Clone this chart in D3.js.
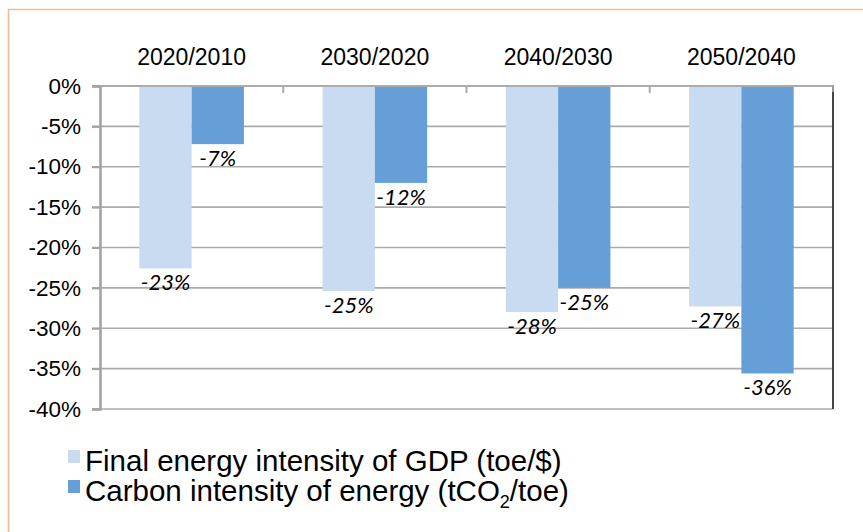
<!DOCTYPE html>
<html>
<head>
<meta charset="utf-8">
<script src="https://cdn.jsdelivr.net/npm/d3@7"></script>
<style>
  html, body { margin: 0; padding: 0; background: #fff; }
  svg { display: block; }
</style>
</head>
<body>
<svg id="chart" width="863" height="532"></svg>
<script>
// Decade-on-decade change in energy and carbon intensity (%)
const periods = ["2020/2010", "2030/2020", "2040/2030", "2050/2040"];
const seriesNames = ["Final energy intensity of GDP (toe/$)", "Carbon intensity of energy (tCO2/toe)"];
const energyIntensity = [-22.6, -25.4, -28.0, -27.3];
const carbonIntensity = [-7.2, -12.0, -25.0, -35.6];
const yTicks = [0, -5, -10, -15, -20, -25, -30, -35, -40];

const colors = ["#c9dbf0", "#669fd7"];
const svg = d3.select("#chart");
const W = 863, H = 532;

// frame around the figure
svg.append("path")
  .attr("d", `M8.5,${H + 2} V9.5 H${W + 2}`)
  .attr("fill", "none")
  .attr("stroke", "#f7b894")
  .attr("stroke-width", 1.6);

const plot = { left: 100, right: 833, top: 86, bottom: 409 };

const y = d3.scaleLinear().domain([-40, 0]).range([plot.bottom, plot.top]);
const x0 = d3.scaleBand().domain(periods).range([plot.left, plot.right]).padding(0);
const x1 = d3.scaleBand().domain([0, 1]).range([0, x0.bandwidth()])
  .paddingInner(0).paddingOuter(0.752);

const gridColor = "#ababab";

// horizontal gridlines
svg.append("g")
  .selectAll("line")
  .data(yTicks.filter(t => t !== 0))
  .join("line")
  .attr("x1", plot.left - 8)
  .attr("x2", plot.right)
  .attr("y1", d => y(d))
  .attr("y2", d => y(d))
  .attr("stroke", gridColor)
  .attr("stroke-width", 1.6);

// bars
const rows = periods.map((p, i) => ({ period: p, values: [energyIntensity[i], carbonIntensity[i]] }));

const groups = svg.append("g")
  .selectAll("g")
  .data(rows)
  .join("g")
  .attr("transform", d => `translate(${x0(d.period)},0)`);

groups.selectAll("rect")
  .data(d => d.values.map((v, k) => ({ v, k })))
  .join("rect")
  .attr("x", d => x1(d.k))
  .attr("width", x1.bandwidth())
  .attr("y", y(0))
  .attr("height", d => y(d.v) - y(0))
  .attr("fill", d => colors[d.k]);

// value labels under each bar
groups.selectAll("text")
  .data(d => d.values.map((v, k) => ({ v, k })))
  .join("text")
  .attr("x", d => x1(d.k) + x1.bandwidth() / 2)
  .attr("y", d => y(d.v) + 22)
  .attr("text-anchor", "middle")
  .attr("font-family", "Lato, 'Open Sans', sans-serif")
  .attr("font-style", "italic")
  .attr("font-size", 22)
  .attr("fill", "#000")
  .text(d => `${Math.round(d.v)}%`);

// top axis line (0%) with category separators
svg.append("line")
  .attr("x1", plot.left - 8).attr("x2", plot.right)
  .attr("y1", y(0)).attr("y2", y(0))
  .attr("stroke", gridColor).attr("stroke-width", 2);

svg.append("g")
  .selectAll("line")
  .data(periods.slice(1))
  .join("line")
  .attr("x1", d => x0(d)).attr("x2", d => x0(d))
  .attr("y1", y(0)).attr("y2", y(0) + 7)
  .attr("stroke", gridColor).attr("stroke-width", 2);

// left value axis
const yAxis = d3.axisLeft(y)
  .tickValues(yTicks)
  .tickSize(8)
  .tickPadding(11)
  .tickFormat(d => `${d}%`);

const ya = svg.append("g")
  .attr("transform", `translate(${plot.left},0)`)
  .call(yAxis);
ya.select(".domain").attr("stroke", "#a3a3a3").attr("stroke-width", 2.6);
ya.selectAll(".tick line").attr("stroke", "#a3a3a3").attr("stroke-width", 2);
ya.selectAll(".tick text")
  .attr("font-family", "'Liberation Sans', Arial, sans-serif")
  .attr("font-size", 22.5)
  .attr("fill", "#000");

// right border of the plot area
svg.append("line")
  .attr("x1", plot.right).attr("x2", plot.right)
  .attr("y1", plot.top + 6).attr("y2", plot.bottom)
  .attr("stroke", "#444").attr("stroke-width", 2);
svg.append("line")
  .attr("x1", plot.right).attr("x2", plot.right)
  .attr("y1", plot.top - 1).attr("y2", plot.top + 6)
  .attr("stroke", "#9a9a9a").attr("stroke-width", 2);

// category labels above the plot
svg.append("g")
  .selectAll("text")
  .data(periods)
  .join("text")
  .attr("x", d => x0(d) + x0.bandwidth() / 2)
  .attr("y", 65)
  .attr("text-anchor", "middle")
  .attr("font-family", "'Liberation Sans', Arial, sans-serif")
  .attr("font-size", 23)
  .attr("fill", "#000")
  .text(d => d);

// legend
const legend = svg.append("g").attr("transform", "translate(68,0)");
const legendRows = [
  { color: colors[0], y: 471, parts: [["Final energy intensity of GDP (toe/$)", false]] },
  { color: colors[1], y: 501, parts: [["Carbon intensity of energy (tCO", false], ["2", true], ["/toe)", false]] }
];
legendRows.forEach(r => {
  legend.append("rect")
    .attr("x", 0).attr("y", r.y - 21)
    .attr("width", 12).attr("height", 13)
    .attr("fill", r.color);
  const t = legend.append("text")
    .attr("x", 17).attr("y", r.y)
    .attr("font-family", "'Liberation Sans', Arial, sans-serif")
    .attr("font-size", 29.5)
    .attr("fill", "#000");
  r.parts.forEach(([s, sub]) => {
    const ts = t.append("tspan").text(s);
    if (sub) ts.attr("font-size", 18).attr("dy", 7);
    else if (t.selectAll("tspan").size() > 1) ts.attr("dy", -7);
  });
});
</script>
</body>
</html>
